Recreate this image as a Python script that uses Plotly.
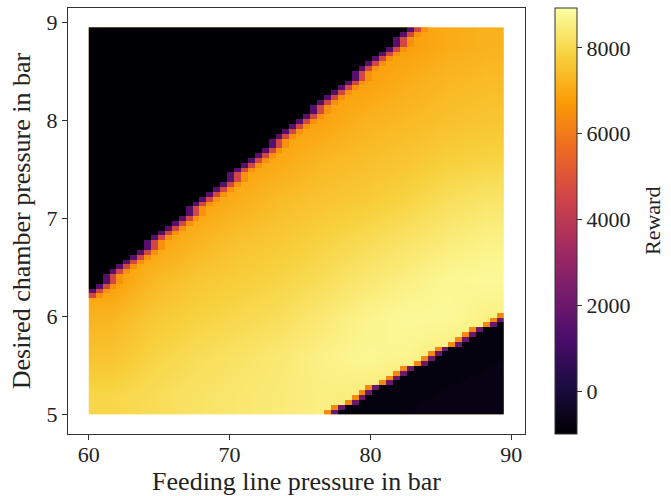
import plotly.graph_objects as go

# ---- data ----
# fine grid (feeding line pressure in bar, desired chamber pressure in bar)
feed_pressure = [60.0, 60.5, 61.0, 61.5, 62.0, 62.5, 63.0, 63.5, 64.0, 64.5,
                 65.0, 65.5, 66.0, 66.5, 67.0, 67.5, 68.0, 68.5, 69.0, 69.5,
                 70.0, 70.5, 71.0, 71.5, 72.0, 72.5, 73.0, 73.5, 74.0, 74.5,
                 75.0, 75.5, 76.0, 76.5, 77.0, 77.5, 78.0, 78.5, 79.0, 79.5,
                 80.0, 80.5, 81.0, 81.5, 82.0, 82.5, 83.0, 83.5, 84.0, 84.5,
                 85.0, 85.5, 86.0, 86.5, 87.0, 87.5, 88.0, 88.5, 89.0, 89.5]
chamber_pressure = [5.00, 5.05, 5.10, 5.15, 5.20, 5.25, 5.30, 5.35, 5.40, 5.45,
                    5.50, 5.55, 5.60, 5.65, 5.70, 5.75, 5.80, 5.85, 5.90, 5.95,
                    6.00, 6.05, 6.10, 6.15, 6.20, 6.25, 6.30, 6.35, 6.40, 6.45,
                    6.50, 6.55, 6.60, 6.65, 6.70, 6.75, 6.80, 6.85, 6.90, 6.95,
                    7.00, 7.05, 7.10, 7.15, 7.20, 7.25, 7.30, 7.35, 7.40, 7.45,
                    7.50, 7.55, 7.60, 7.65, 7.70, 7.75, 7.80, 7.85, 7.90, 7.95,
                    8.00, 8.05, 8.10, 8.15, 8.20, 8.25, 8.30, 8.35, 8.40, 8.45,
                    8.50, 8.55, 8.60, 8.65, 8.70, 8.75, 8.80, 8.85, 8.90, 8.95]

# per chamber-pressure row: number of failed (black) cells at the left, incl. edge cells
upper_fail_cols = [0, 0, 0, 0, 0, 0, 0, 0, 0, 0, 0, 0, 0, 0, 0, 0, 0, 0, 0, 0,
                   0, 0, 0, 0, 1, 2, 3, 4, 4, 5, 6, 7, 8, 9, 10, 10, 11, 12, 13, 14,
                   15, 16, 16, 17, 18, 19, 20, 21, 22, 22, 23, 24, 25, 26, 27, 28, 28, 29, 30, 31,
                   32, 33, 34, 34, 35, 36, 37, 38, 39, 40, 40, 41, 42, 43, 44, 45, 46, 46, 47, 48]
# per row: first column of the failed region at the bottom right (60 = none)
lower_fail_start = [34, 35, 37, 38, 39, 40, 42, 43, 44, 45, 47, 48, 49, 50, 52, 53, 54, 55, 57, 58,
                    59, 60, 60, 60, 60, 60, 60, 60, 60, 60, 60, 60, 60, 60, 60, 60, 60, 60, 60, 60,
                    60, 60, 60, 60, 60, 60, 60, 60, 60, 60, 60, 60, 60, 60, 60, 60, 60, 60, 60, 60,
                    60, 60, 60, 60, 60, 60, 60, 60, 60, 60, 60, 60, 60, 60, 60, 60, 60, 60, 60, 60]
# per row: first column of the slightly brighter dark corner (60 = none)
corner_start = [45, 47, 48, 50, 51, 52, 54, 55, 57, 58, 59, 60, 60, 60, 60, 60, 60, 60, 60, 60,
                60, 60, 60, 60, 60, 60, 60, 60, 60, 60, 60, 60, 60, 60, 60, 60, 60, 60, 60, 60,
                60, 60, 60, 60, 60, 60, 60, 60, 60, 60, 60, 60, 60, 60, 60, 60, 60, 60, 60, 60,
                60, 60, 60, 60, 60, 60, 60, 60, 60, 60, 60, 60, 60, 60, 60, 60, 60, 60, 60, 60]

reward_black = -1000
reward_dark = -780
reward_corner = -700
upper_edge_rewards = [1500, 4600, 6500]   # purple, red, orange cells at the upper-left border
lower_edge_rewards = [6300, 2000]         # orange, purple cells at the lower-right border

# coarse reward field inside the feasible band (cell edges + values, bottom row first)
coarse_feed_edges = [60, 63, 66, 69, 72, 75, 78, 81, 84, 87, 89.5]
coarse_chamber_edges = [5.0, 5.4, 5.8, 6.2, 6.6, 7.0, 7.4, 7.8, 8.2, 8.6, 8.95]
coarse_reward = [
    [7950, 8100, 8250, 8350, 8450, 8550, 8500, 8300, 8300, 8300],
    [7550, 7900, 8100, 8250, 8400, 8600, 8750, 8700, 8500, 8500],
    [7250, 7650, 7850, 8000, 8150, 8400, 8650, 8800, 8800, 8600],
    [6700, 7300, 7600, 7750, 7900, 8100, 8350, 8550, 8750, 8800],
    [6800, 6800, 7200, 7500, 7650, 7850, 8050, 8250, 8450, 8600],
    [6800, 6800, 6800, 7100, 7400, 7550, 7700, 7900, 8150, 8300],
    [6800, 6800, 6800, 6800, 7000, 7300, 7450, 7600, 7800, 7900],
    [6800, 6800, 6800, 6800, 6800, 6900, 7200, 7350, 7500, 7600],
    [6800, 6800, 6800, 6800, 6800, 6800, 6850, 7100, 7300, 7400],
    [6800, 6800, 6800, 6800, 6800, 6800, 6800, 6800, 7050, 7200],
]

colorbar_ticks = [0, 2000, 4000, 6000, 8000]
x_ticks = [60, 70, 80, 90]
y_ticks = [5, 6, 7, 8, 9]

# ---- build the failure/border overlay (None = feasible, shown by the coarse layer) ----
ncol = len(feed_pressure)
nrow = len(chamber_pressure)
overlay = []
for j in range(nrow):
    row = [None] * ncol
    k = upper_fail_cols[j]
    for i in range(k):
        if i == k - 1:
            row[i] = upper_edge_rewards[1]
        elif i == k - 2:
            row[i] = upper_edge_rewards[0]
        else:
            row[i] = reward_black
    if 0 < k < ncol:
        row[k] = upper_edge_rewards[2]
    m = lower_fail_start[j]
    for i in range(m, ncol):
        if i == m:
            row[i] = lower_edge_rewards[0]
        elif i == m + 1:
            row[i] = lower_edge_rewards[1]
        elif i >= corner_start[j]:
            row[i] = reward_corner
        else:
            row[i] = reward_dark
    overlay.append(row)

# image extent like imshow(extent=[min, max, min, max])
x_lo, x_hi = feed_pressure[0], feed_pressure[-1]
y_lo, y_hi = chamber_pressure[0], chamber_pressure[-1]
x_edges = [x_lo + (x_hi - x_lo) * i / ncol for i in range(ncol + 1)]
y_edges = [y_lo + (y_hi - y_lo) * j / nrow for j in range(nrow + 1)]

ZMIN, ZMAX = -1000, 8930
FONT = "Liberation Serif"

fig = go.Figure()
fig.add_trace(go.Heatmap(
    x=coarse_feed_edges, y=coarse_chamber_edges, z=coarse_reward,
    colorscale="Inferno", zmin=ZMIN, zmax=ZMAX, zsmooth="best",
    showscale=False, hoverinfo="skip"))
fig.add_trace(go.Heatmap(
    x=x_edges, y=y_edges, z=overlay,
    colorscale="Inferno", zmin=ZMIN, zmax=ZMAX, zsmooth=False,
    hoverongaps=False,
    colorbar=dict(
        x=1.0656, xanchor="left", xpad=0, y=0.5, yanchor="middle", ypad=0,
        len=1.0, lenmode="fraction", thickness=22,
        outlinewidth=1, outlinecolor="#333",
        tickvals=colorbar_ticks, ticks="outside", ticklen=5, tickcolor="#333",
        tickfont=dict(family=FONT, size=22, color="#222"),
    )))

fig.add_annotation(text="Reward", xref="paper", yref="paper",
                   x=(652 - 68) / 457, y=0.5, xanchor="center", yanchor="middle",
                   textangle=-90, showarrow=False,
                   font=dict(family=FONT, size=22, color="#222"))

fig.update_layout(
    width=671, height=496,
    margin=dict(l=68, r=146, t=8, b=62, autoexpand=False),
    paper_bgcolor="white", plot_bgcolor="white",
    font=dict(family=FONT, size=22, color="#222"),
    xaxis=dict(range=[58.525, 90.975], tickvals=x_ticks, ticks="outside",
               ticklen=5, tickcolor="#333", showgrid=False, zeroline=False,
               showline=True, linecolor="#333", linewidth=1, mirror=True,
               ticklabelstandoff=-4,
               title=dict(text="Feeding line pressure in bar", standoff=6),
               tickfont=dict(size=22)),
    yaxis=dict(range=[4.8025, 9.1475], tickvals=y_ticks, ticks="outside",
               ticklen=5, tickcolor="#333", showgrid=False, zeroline=False,
               showline=True, linecolor="#333", linewidth=1, mirror=True,
               title=dict(text="Desired chamber pressure in bar", standoff=8),
               tickfont=dict(size=22)),
)

fig.write_html("out.html", config={"displayModeBar": False},
               post_script="document.body.style.margin='0';document.body.style.padding='0';")
